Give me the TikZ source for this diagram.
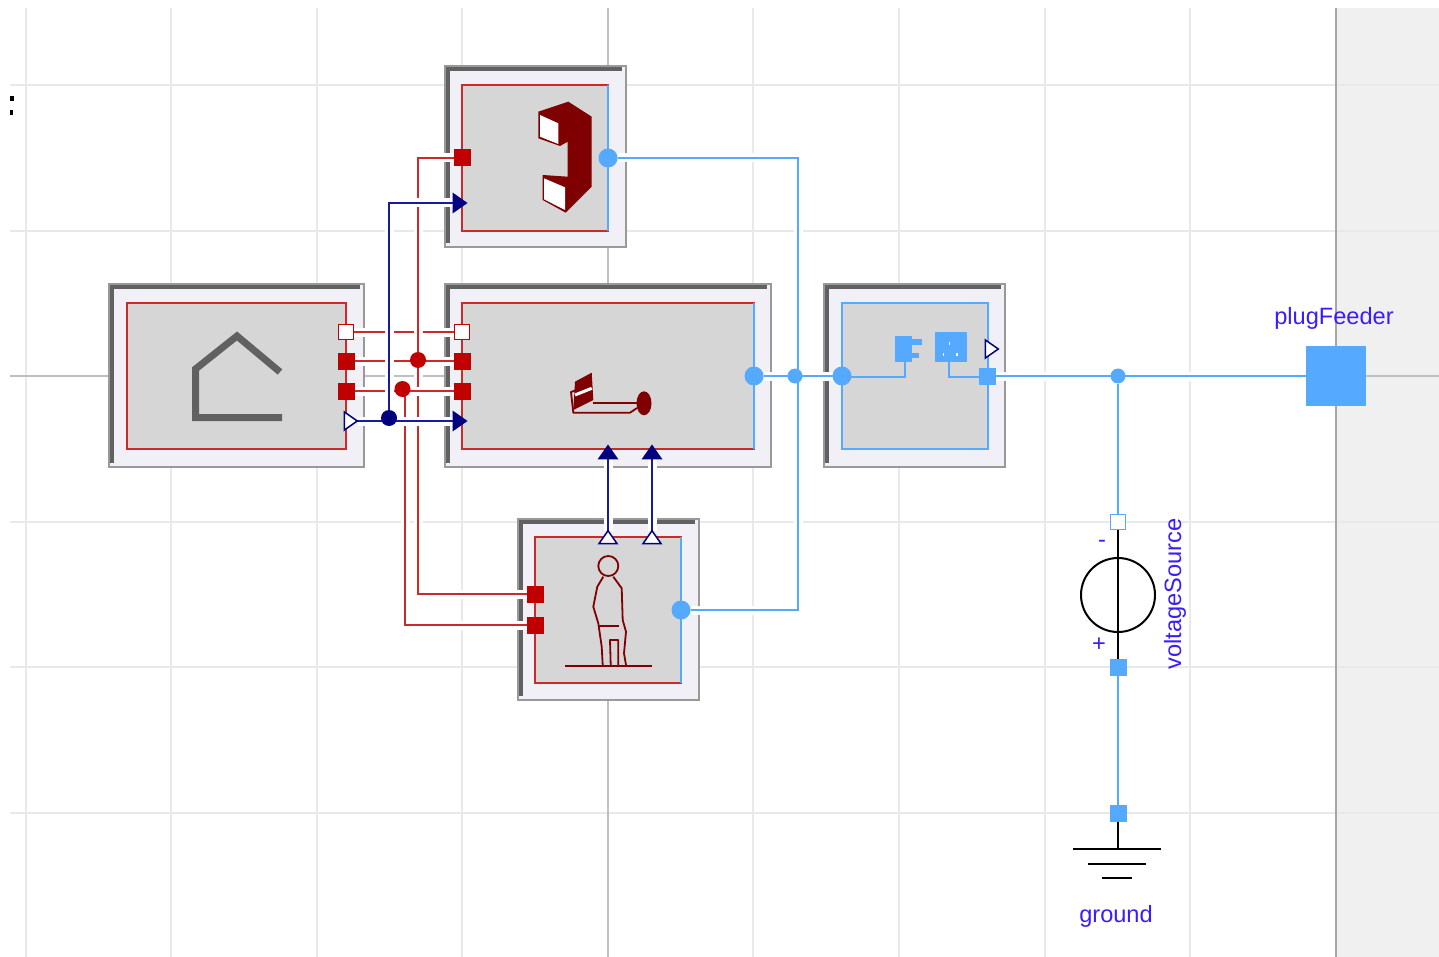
\documentclass[tikz,border=0pt]{standalone}
\usepackage{fontspec}
\setmainfont{Liberation Sans}
\usetikzlibrary{calc,shapes.geometric}
\pgfdeclarelayer{blocks}
\pgfdeclarelayer{wires}
\pgfsetlayers{blocks,wires,main}
\definecolor{wirered}{HTML}{CC2A2A}
\definecolor{portred}{HTML}{C00000}
\definecolor{wireblue}{HTML}{55AAFF}
\definecolor{wirenavy}{HTML}{1A1A9C}
\definecolor{portnavy}{HTML}{000080}
\definecolor{iconred}{HTML}{7F0000}
\definecolor{labelblue}{HTML}{3A1CFF}
\definecolor{panel}{HTML}{F0F0F6}
\definecolor{inner}{HTML}{D6D6D6}
\definecolor{gridline}{HTML}{E9E9E9}
\tikzset{
    blockouter/.style={rectangle, draw=black!40, line width=2pt, fill=panel, inner sep=0pt, outer sep=0pt},
    blockinner/.style={rectangle, draw=wirered, line width=1.5pt, fill=inner, inner sep=0pt, outer sep=0pt},
    blockblue/.style={blockinner, draw=wireblue},
    heatport/.style={rectangle, fill=portred, minimum size=17pt, inner sep=0pt, outer sep=0pt},
    heatopen/.style={rectangle, draw=portred, line width=1.5pt, fill=white, minimum size=15pt, inner sep=0pt, outer sep=0pt},
    elecport/.style={rectangle, fill=wireblue, minimum size=17pt, inner sep=0pt, outer sep=0pt},
    elecopen/.style={rectangle, draw=wireblue, line width=1.5pt, fill=white, minimum size=15pt, inner sep=0pt, outer sep=0pt},
    eleccirc/.style={circle, fill=wireblue, minimum size=19pt, inner sep=0pt, outer sep=0pt},
    elecdot/.style={circle, fill=wireblue, minimum size=15pt, inner sep=0pt, outer sep=0pt},
    reddot/.style={circle, fill=portred, minimum size=16pt, inner sep=0pt, outer sep=0pt},
    navydot/.style={circle, fill=portnavy, minimum size=16pt, inner sep=0pt, outer sep=0pt},
    ctrlin/.style={isosceles triangle, isosceles triangle apex angle=70, fill=portnavy, minimum size=15pt, inner sep=0pt, outer sep=0pt},
    ctrlout/.style={isosceles triangle, isosceles triangle apex angle=70, draw=portnavy, line width=1.5pt, fill=white, minimum size=13pt, inner sep=0pt, outer sep=0pt},
    redwire/.style={draw=wirered, line width=2pt, preaction={draw=white, line width=9pt}},
    bluewire/.style={draw=wireblue, line width=2pt, preaction={draw=white, line width=9pt}},
    navywire/.style={draw=wirenavy, line width=2pt, preaction={draw=white, line width=9pt}},
    iconline/.style={draw=iconred, line width=1.8pt, line join=round},
    lbl/.style={text=labelblue, font=\fontsize{23.6}{25}\selectfont, inner sep=0pt},
}
\begin{document}
\begin{tikzpicture}[x=1pt, y=-1pt]
    \useasboundingbox (0,0) rectangle (1439,957);
    \begin{pgfonlayer}{blocks}
    \fill[white] (0,0) rectangle (1439,957);
    % Grid and the shaded margin
    \fill[black!6] (1336,8) rectangle (1439,957);
    \foreach \xx in {26,171,317,462,753,899,1045,1190}
        \draw[gridline, line width=2pt] (\xx,8) -- (\xx,957);
    \foreach \yy in {85,231,522,667,813}
        \draw[gridline, line width=2pt] (10,\yy) -- (1439,\yy);
    \draw[black!25, line width=2pt] (10,376) -- (1439,376);
    \draw[black!25, line width=2pt] (608,8) -- (608,957);
    \draw[black!35, line width=2pt] (1336,8) -- (1336,957);
    \fill[black] (10,96) rectangle (14,101);
    \fill[black] (10,110) rectangle (13,115);

    % Place blocks
    \node [blockouter, minimum width=255pt, minimum height=182pt] (house) at (236,375.5) {};
    \node [blockouter, minimum width=181pt, minimum height=181pt] (heater) at (535,157) {};
    \node [blockouter, minimum width=326pt, minimum height=182pt] (machine) at (607.5,375.5) {};
    \node [blockouter, minimum width=181pt, minimum height=182pt] (socket) at (914,375.5) {};
    \node [blockouter, minimum width=181pt, minimum height=181pt] (person) at (608,609) {};
    \foreach \blk in {house,heater,machine,socket,person}
        \draw[black!62, line width=4pt] ($(\blk.south west)+(3,-4)$) -- ($(\blk.north west)+(3,3)$) -- ($(\blk.north east)+(-4,3)$);
    \node [blockinner, minimum width=219pt, minimum height=146pt] (houseI) at (236.5,376) {};
    \node [blockinner, minimum width=146pt, minimum height=146pt] (heaterI) at (535,158) {};
    \node [blockinner, minimum width=292pt, minimum height=146pt] (machineI) at (608,376) {};
    \node [blockblue, minimum width=146pt, minimum height=146pt] (socketI) at (915,376) {};
    \node [blockinner, minimum width=146pt, minimum height=146pt] (personI) at (608,610) {};
    \foreach \blk in {heaterI,machineI,personI}
        \draw[wireblue, line width=2pt] (\blk.north east) -- (\blk.south east);

    % Icons
    \draw[black!62, line width=7pt, miter limit=10] (282,417.5) -- (195.5,417.5) -- (195.5,369) -- (237,336) -- (280,372);
    \fill[iconred] (538.3,111.7) -- (568.3,101.7) -- (591.7,116.7) -- (591.7,186.7) -- (565.7,212.7) -- (542.7,200) -- (542.7,175) -- (567.7,176.7) -- (567.7,141.7) -- (560,146) -- (538.3,138.3) -- cycle;
    \fill[white] (540,115) -- (558.3,123.3) -- (558.3,144) -- (540,136.7) -- cycle;
    \fill[white] (544,178.3) -- (565,187.3) -- (565,210) -- (544,199.3) -- cycle;
    \fill[iconred] (575,381.7) -- (591.7,372.7) -- (593.3,400) -- (573.3,410) -- cycle;
    \draw[white, line width=3pt] (575,395) -- (591.7,388.3);
    \draw[iconline] (575,390.5) -- (571,392) -- (573.3,412.7) -- (630,412.7) -- (637,408);
    \draw[iconline] (593,402.7) -- (637,402.7);
    \fill[iconred] (644,403.3) ellipse (7.5 and 12);
    \fill[wireblue] (895,335.7) rectangle (911.7,361.7);
    \fill[wireblue] (911.7,339.3) rectangle (921.7,345);
    \fill[wireblue] (911.7,352.7) rectangle (919.3,357.7);
    \fill[wireblue] (935,331.7) rectangle (967.3,361.7);
    \fill[white] (948.5,342) rectangle (950,345);
    \fill[white] (942.5,353) rectangle (944,356);
    \fill[white] (956,353) rectangle (957.5,356);
    \draw[wireblue, line width=2pt] (905,361) -- (905,376.5) -- (842,376.5);
    \draw[wireblue, line width=2pt] (949,361) -- (949,376.5) -- (987,376.5);
    \draw[iconline] (608.3,566) circle (10);
    \draw[iconline] (603.3,576.7) -- (597.3,586.7) -- (593.3,606.7) -- (598.3,623.3) -- (601.7,646.7) -- (602.7,665);
    \draw[iconline] (613.3,576.7) -- (621.7,588.3) -- (622.7,620) -- (626,631.7) -- (624,653.3) -- (626,665);
    \draw[iconline] (598.3,625.7) -- (619.3,625.7);
    \draw[iconline] (610.7,665) -- (610,640) -- (618.3,640) -- (618.3,665);
    \draw[iconline] (565,665.7) -- (651.7,665.7);
    \end{pgfonlayer}

    % Place ports
    \node [heatopen] (houseA) at (346,332) {};
    \node [heatport] (houseB) at (346,361) {};
    \node [heatport] (houseC) at (346,391) {};
    \node [ctrlout] (houseOut) at (349,421) {};
    \node [heatopen] (machineA) at (462,332) {};
    \node [heatport] (machineB) at (462,361) {};
    \node [heatport] (machineC) at (462,391) {};
    \node [ctrlin] (machineIn) at (458,421) {};
    \node [heatport] (heaterHeat) at (462,158) {};
    \node [ctrlin] (heaterIn) at (458,203) {};
    \node [eleccirc] (heaterEl) at (608,158) {};
    \node [eleccirc] (machineEl) at (754,376) {};
    \node [ctrlin, shape border rotate=90] (machineUpA) at (608,454) {};
    \node [ctrlin, shape border rotate=90] (machineUpB) at (652,454) {};
    \node [ctrlout, shape border rotate=90] (personOutA) at (608,539) {};
    \node [ctrlout, shape border rotate=90] (personOutB) at (652,539) {};
    \node [heatport] (personA) at (535,594) {};
    \node [heatport] (personB) at (535,625) {};
    \node [eleccirc] (personEl) at (681,610) {};
    \node [eleccirc] (socketEl) at (842,376) {};
    \node [elecport] (socketOut) at (987,376) {};
    \node [ctrlout] (socketCtrl) at (990,349) {};
    \node [elecport, minimum size=60pt] (plugFeeder) at (1336,376) {};
    \node [elecopen] (sourceN) at (1118,522) {};
    \node [elecport] (sourceP) at (1118,667) {};
    \node [elecport] (groundP) at (1118,813) {};

    % Place junctions
    \node [reddot] (jointB) at (418,360) {};
    \node [reddot] (jointC) at (402.5,389) {};
    \node [navydot] (jointCtrl) at (389,418) {};
    \node [elecdot] (jointEl) at (795,376) {};
    \node [elecdot] (jointFeed) at (1118,376) {};
    \coordinate (bendEl) at (798,376);
    \coordinate (bendC) at (405,391);

    % Connectors
    \begin{pgfonlayer}{wires}
    \path[redwire] (houseA) -- (machineA);
    \path[redwire] (heaterHeat) -| (jointB);
    \path[redwire] (jointB) |- (personA);
    \path[redwire] (houseB) -- (machineB);
    \path[redwire] (bendC) |- (personB);
    \path[redwire] (houseC) -- (machineC);
    \path[navywire] (houseOut) -- (machineIn);
    \path[navywire] (jointCtrl) |- (heaterIn);
    \path[navywire] (personOutA) -- (machineUpA);
    \path[navywire] (personOutB) -- (machineUpB);
    \path[bluewire] (heaterEl) -| (bendEl) |- (personEl);
    \path[bluewire] (machineEl) -- (socketEl);
    \path[bluewire] (socketOut) -- (plugFeeder);
    \path[bluewire] (jointFeed) -- (sourceN);
    \path[bluewire] (sourceP) -- (groundP);
    \end{pgfonlayer}

    % Voltage source and ground
    \node [circle, draw=black, line width=2pt, minimum size=74pt, inner sep=0pt] (source) at (1118,595) {};
    \draw[black, line width=2pt] (sourceN) -- (sourceP);
    \coordinate (earth) at (1118,849);
    \draw[black, line width=2pt] (groundP) -- (earth);
    \draw[black, line width=2pt] (1073,849) -- (1161,849);
    \draw[black, line width=2pt] (1088,864) -- (1146,864);
    \draw[black, line width=2pt] (1102,878) -- (1132,878);

    % Labels
    \node [lbl] (plugLabel) at (1334,318) {plugFeeder};
    \node [lbl] (groundLabel) at (1116,916) {ground};
    \node [lbl, rotate=90] (sourceLabel) at (1175,594) {voltageSource};
    \node [lbl] (minusLabel) at (1102,544) {-};
    \node [lbl] (plusLabel) at (1099,645) {+};
\end{tikzpicture}
\end{document}
